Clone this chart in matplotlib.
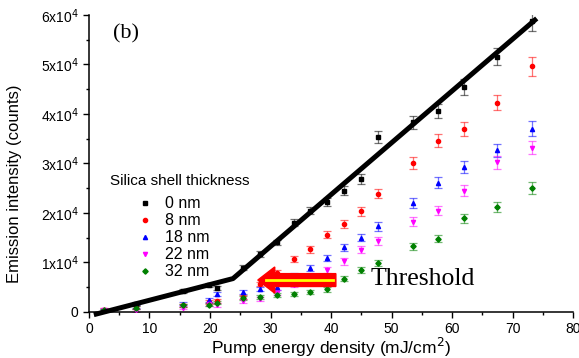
import matplotlib
matplotlib.use('Agg')
import matplotlib.pyplot as plt
from matplotlib.patches import FancyArrow
from matplotlib.ticker import MultipleLocator, FixedLocator

plt.rcParams['font.family'] = ['Liberation Sans', 'DejaVu Sans']

# pump energy density (mJ/cm^2)
x = [2.5, 7.8, 15.5, 19.8, 21.2, 25.4, 28.2, 31.0, 33.8, 36.6,
     39.4, 42.2, 45.0, 47.8, 53.5, 57.7, 62.0, 67.5, 73.3]

# emission intensity (counts) for each shell thickness
y0 = [100, 1600, 4100, 5400, 4800, 8900, 11700, 14000, 18000, 20400,
      22100, 24500, 26900, 35300, 38300, 40600, 45500, 51600, 58700]
y8 = [400, 800, 1300, 1900, 2200, 2900, 5600, 7900, 10700, 12600,
      15600, 17800, 20300, 23900, 30000, 34600, 37000, 42300, 49600]
y18 = [200, 1000, 1600, 2400, 3600, 4000, 4500, 4900, 7300, 8900,
       10900, 13000, 15000, 17300, 21900, 26100, 29200, 32600, 37000]
y22 = [400, 300, 800, 1500, 1400, 2100, 2600, 3800, 5500, 7000,
       8500, 10200, 12500, 14300, 18200, 20400, 24500, 30200, 33200]
y32 = [300, 800, 1300, 1400, 1800, 2800, 3000, 3400, 3600, 4000,
       4500, 6700, 8500, 9800, 13200, 14800, 18900, 21100, 25100]

e0 = [300, 300, 400, 400, 500, 500, 600, 600, 700, 700,
      800, 900, 1000, 1200, 1300, 1400, 1600, 1800, 1900]
e8 = [300, 300, 300, 400, 400, 400, 500, 500, 600, 700,
      700, 800, 900, 1000, 1200, 1300, 1400, 1600, 2000]
e18 = [300, 300, 300, 400, 400, 400, 400, 500, 500, 600,
       600, 700, 800, 900, 1000, 1100, 1200, 1300, 1500]
e22 = [300, 300, 300, 300, 400, 400, 400, 500, 500, 500,
       600, 700, 700, 800, 900, 900, 1100, 1300, 1400]
e32 = [300, 300, 300, 300, 300, 400, 400, 400, 400, 400,
       500, 500, 600, 600, 700, 700, 900, 1000, 1200]

labels = ['0 nm', '8 nm', '18 nm', '22 nm', '32 nm']
colors = ['black', 'red', 'blue', 'magenta', 'green']
markers = ['s', 'o', '^', 'v', 'D']

# two-segment linear fit for the 0 nm series
fit_x = [0.8, 23.8, 74.0]
fit_y = [-600, 6700, 59300]

fig = plt.figure(figsize=(5.79, 3.58), dpi=100)
ax = fig.add_axes([0.1537, 0.1293, 0.836, 0.8288])

handles = []
for ys, es, c, m, lab in zip([y0, y8, y18, y22, y32], [e0, e8, e18, e22, e32],
                             colors, markers, labels):
    ax.errorbar(x, ys, yerr=es, fmt='none', ecolor=c, alpha=0.55,
                elinewidth=0.9, capsize=3, capthick=0.9, zorder=2)
    h, = ax.plot(x, ys, linestyle='none', marker=m, color=c,
                 markersize=3.0 if m != 'D' else 2.7, zorder=3, label=lab)
    handles.append(h)

ax.plot(fit_x, fit_y, color='black', linewidth=3.6, solid_capstyle='butt',
        clip_on=False, zorder=4)

ax.set_xlim(0, 80)
ax.set_ylim(0, 60000)
ax.xaxis.set_major_locator(MultipleLocator(10))
ax.xaxis.set_minor_locator(MultipleLocator(5))
ax.yaxis.set_major_locator(FixedLocator([0, 10000, 20000, 30000, 40000, 50000, 60000]))
ax.yaxis.set_minor_locator(MultipleLocator(5000))
ax.set_yticklabels(['0'] + [r'%dx10$^4$' % i for i in range(1, 7)])
ax.tick_params(which='major', direction='out', length=4, width=1, labelsize=10)
ax.tick_params(which='minor', direction='out', length=2.5, width=1)
for s in ['top', 'right']:
    ax.spines[s].set_visible(False)
for s in ['left', 'bottom']:
    ax.spines[s].set_linewidth(1.1)

ax.set_xlabel('Pump energy density (mJ/cm$^2$)', fontsize=12.5)
ax.xaxis.set_label_coords(0.5, -0.083)
ax.set_ylabel('Emission intensity (counts)', fontsize=12)
ax.yaxis.set_label_coords(-0.138, 0.43)

# legend title drawn separately so the gap to the entries matches
ax.text(0.043, 0.44, 'Silica shell thickness', fontsize=11,
        transform=ax.transAxes, va='center', ha='left')

leg = ax.legend(handles=handles, frameon=False,
                loc='upper left', bbox_to_anchor=(0.085, 0.41), fontsize=11.5,
                handlelength=1.0, handletextpad=0.8,
                labelspacing=0.12, borderaxespad=0)

ax.text(0.05, 0.935, '(b)', transform=ax.transAxes, fontsize=16,
        family='Liberation Serif', va='center')

# threshold arrow
arrow = FancyArrow(40.8, 6400, -12.9, 0, width=2600, head_width=5300,
                   head_length=2.8, length_includes_head=True,
                   facecolor='red', edgecolor='red', zorder=5)
ax.add_patch(arrow)
ax.plot([29.2, 40.3], [6400, 6400], color='yellow', linewidth=2, zorder=6)
ax.text(46.5, 6600, 'Threshold', fontsize=18.5, family='Liberation Serif',
        va='center', ha='left')

fig.savefig('out.png', dpi=100)
